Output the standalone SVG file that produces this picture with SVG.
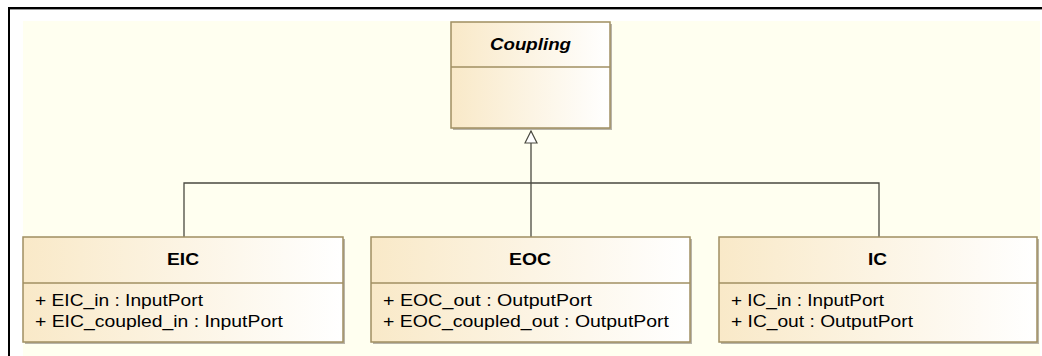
<svg xmlns="http://www.w3.org/2000/svg" width="1042" height="356" viewBox="0 0 1042 356">
  <defs>
    <linearGradient id="fill" x1="0" y1="0" x2="1" y2="0">
      <stop offset="0" stop-color="#F9E9C8"/>
      <stop offset="1" stop-color="#FFFFFF"/>
    </linearGradient>
    <marker id="gen" viewBox="0 0 14 14" refX="13" refY="7" markerWidth="14" markerHeight="14" markerUnits="userSpaceOnUse" orient="auto">
      <path d="M1 1 L13 7 L1 13 Z" fill="#FFFFFF" stroke="#4A4A40" stroke-width="1.2"/>
    </marker>
  </defs>
  <style>
    .shadow { fill: #B8B4A8; }
    .box { fill: url(#fill); stroke: #A08F62; stroke-width: 1.5; }
    .div { stroke: #A08F62; stroke-width: 1.5; }
    .title { font-family: "Liberation Sans", Arial, sans-serif; font-size: 16.5px; font-weight: bold; fill: #000; text-anchor: middle; }
    .attr { font-family: "Liberation Sans", Arial, sans-serif; font-size: 16.5px; fill: #000; }
    .conn { fill: none; stroke: #4A4A40; stroke-width: 1.3; }
  </style>
  <rect x="0" y="0" width="1042" height="356" fill="#FFFFFF"/>
  <rect x="23" y="21" width="1017" height="335" fill="#FFFFF0"/>
  <line x1="9" y1="8" x2="1042" y2="8" stroke="#000" stroke-width="2"/>
  <line x1="9" y1="9.5" x2="1042" y2="9.5" stroke="#9A9A9A" stroke-width="1"/>
  <line x1="9" y1="7" x2="9" y2="356" stroke="#000" stroke-width="2"/>

  <g id="connectors">
    <path class="conn" d="M531 143 L531 237"/>
    <path class="conn" d="M184 237 L184 183 L879 183 L879 237"/>
    <path class="conn" d="M531 143 L531 131" marker-end="url(#gen)"/>
  </g>

  <g id="Coupling">
    <rect class="shadow" x="453" y="24" width="159" height="106"/>
    <rect class="box" x="451" y="22" width="159" height="106"/>
    <line class="div" x1="451" y1="67" x2="610" y2="67"/>
    <text class="title" x="530.5" y="50" font-style="italic" textLength="81" lengthAdjust="spacingAndGlyphs">Coupling</text>
  </g>

  <g id="EIC">
    <rect class="shadow" x="25" y="239" width="320" height="105"/>
    <rect class="box" x="23" y="237" width="320" height="105"/>
    <line class="div" x1="23" y1="283" x2="343" y2="283"/>
    <text class="title" x="183" y="265" textLength="32" lengthAdjust="spacingAndGlyphs">EIC</text>
    <text class="attr" x="35" y="306" textLength="168" lengthAdjust="spacingAndGlyphs">+ EIC_in : InputPort</text>
    <text class="attr" x="35" y="327" textLength="248" lengthAdjust="spacingAndGlyphs">+ EIC_coupled_in : InputPort</text>
  </g>

  <g id="EOC">
    <rect class="shadow" x="373" y="239" width="319" height="105"/>
    <rect class="box" x="371" y="237" width="319" height="105"/>
    <line class="div" x1="371" y1="283" x2="690" y2="283"/>
    <text class="title" x="530" y="265" textLength="42" lengthAdjust="spacingAndGlyphs">EOC</text>
    <text class="attr" x="383" y="306" textLength="209" lengthAdjust="spacingAndGlyphs">+ EOC_out : OutputPort</text>
    <text class="attr" x="383" y="327" textLength="286" lengthAdjust="spacingAndGlyphs">+ EOC_coupled_out : OutputPort</text>
  </g>

  <g id="IC">
    <rect class="shadow" x="721" y="239" width="318" height="105"/>
    <rect class="box" x="719" y="237" width="318" height="105"/>
    <line class="div" x1="719" y1="283" x2="1037" y2="283"/>
    <text class="title" x="877.5" y="265" textLength="19" lengthAdjust="spacingAndGlyphs">IC</text>
    <text class="attr" x="731" y="306" textLength="153" lengthAdjust="spacingAndGlyphs">+ IC_in : InputPort</text>
    <text class="attr" x="731" y="327" textLength="182" lengthAdjust="spacingAndGlyphs">+ IC_out : OutputPort</text>
  </g>
</svg>
